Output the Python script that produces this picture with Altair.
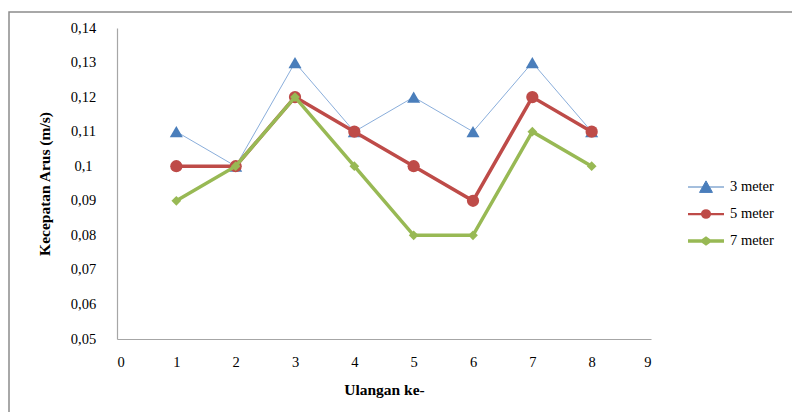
import altair as alt
import pandas as pd

# Measurement rounds and current speeds (m/s) at three depths
ulangan = [1, 2, 3, 4, 5, 6, 7, 8]
series_names = ["3 meter", "5 meter", "7 meter"]
v_3m = [0.11, 0.10, 0.13, 0.11, 0.12, 0.11, 0.13, 0.11]
v_5m = [0.10, 0.10, 0.12, 0.11, 0.10, 0.09, 0.12, 0.11]
v_7m = [0.09, 0.10, 0.12, 0.10, 0.08, 0.08, 0.11, 0.10]
y_ticks = [0.05, 0.06, 0.07, 0.08, 0.09, 0.10, 0.11, 0.12, 0.13, 0.14]
x_ticks = [0, 1, 2, 3, 4, 5, 6, 7, 8, 9]

marker_colors = ["#4A7EBB", "#BE4B48", "#98B954"]
line_colors = ["#8AAEDB", "#BE4B48", "#98B954"]
line_widths = [1, 3.5, 3.5]
marker_shapes = ["triangle-up", "circle", "diamond"]
marker_sizes = [170, 150, 95]

# legend glyphs: a short line with the marker in the middle
legend_paths = [
    "M-1,0L1,0M-0.36,0.3L0.36,0.3L0,-0.34Z",
    "M-1,0L1,0M-0.22,0A0.22,0.2,0,1,0,0.22,0A0.22,0.2,0,1,0,-0.22,0Z",
    "M-1,0L1,0M-0.2,0L0,-0.14L0.2,0L0,0.14Z",
]

rows = []
for name, vals in zip(series_names, [v_3m, v_5m, v_7m]):
    for u, v in zip(ulangan, vals):
        rows.append({"ulangan": u, "kecepatan": v, "seri": name})
df = pd.DataFrame(rows)

FONT = "Liberation Serif"

x_enc = alt.X(
    "ulangan:Q",
    scale=alt.Scale(domain=[0, 9], nice=False),
    axis=alt.Axis(
        values=x_ticks, format="d", grid=False, ticks=False,
        labelPadding=16, labelBaseline="top", labelFont=FONT,
        title="Ulangan ke-", titleY=50, titleBaseline="middle",
        titleFont=FONT, titleFontWeight="bold",
    ),
)
y_enc = alt.Y(
    "kecepatan:Q",
    scale=alt.Scale(domain=[0.05, 0.14], nice=False, zero=False),
    axis=alt.Axis(
        values=y_ticks, grid=False, ticks=False,
        labelExpr="replace(format(datum.value, '.2~f'), '.', ',')",
        labelAlign="center", labelPadding=34, labelFont=FONT,
        title="Kecepatan Arus (m/s)", titleX=-73, titleY=155.5,
        titleAngle=-90, titleBaseline="middle", titleAlign="center",
        titleFont=FONT, titleFontWeight="bold",
    ),
)

base = alt.Chart(df)
layers = []

# frame around the whole figure
frame = alt.Chart(pd.DataFrame({"k": [0]})).mark_rect(
    filled=False, stroke="#8c8c8c", strokeWidth=1.5
).encode(
    x=alt.value(-108), x2=alt.value(700), y=alt.value(-16), y2=alt.value(420)
)
layers.append(frame)

for i, name in enumerate(series_names):
    sub = base.transform_filter(alt.datum.seri == name)
    line = sub.mark_line(color=line_colors[i], strokeWidth=line_widths[i]).encode(
        x=x_enc, y=y_enc
    )
    pts = sub.mark_point(
        filled=True, opacity=1, shape=marker_shapes[i], size=marker_sizes[i],
        color=marker_colors[i],
    ).encode(x=x_enc, y=y_enc)
    layers += [line, pts]

# legend-only layer (no marks drawn; entries come from the scale domains)
leg_props = dict(
    title=None, orient="none", legendX=569, legendY=145.5,
    symbolSize=1296, clipHeight=27, labelFont=FONT, labelFontSize=14.5,
    labelColor="black", labelOffset=4, padding=0, rowPadding=0,
)
legend_layer = base.transform_filter("false").mark_point(filled=True, opacity=1).encode(
    x=x_enc, y=y_enc,
    color=alt.Color("seri:N", scale=alt.Scale(domain=series_names, range=marker_colors),
                    legend=alt.Legend(**leg_props)),
    stroke=alt.Stroke("seri:N", scale=alt.Scale(domain=series_names, range=marker_colors),
                      legend=alt.Legend(**leg_props)),
    strokeWidth=alt.StrokeWidth("seri:N", scale=alt.Scale(domain=series_names, range=line_widths),
                                legend=alt.Legend(**leg_props)),
    shape=alt.Shape("seri:N", scale=alt.Scale(domain=series_names, range=legend_paths),
                    legend=alt.Legend(**leg_props)),
)
layers.append(legend_layer)

chart = alt.layer(*layers).properties(
    width=534, height=311,
    autosize=alt.AutoSizeParams(type="none"),
    padding={"left": 117, "top": 28, "right": 141, "bottom": 73},
).configure(font=FONT).configure_view(stroke=None).configure_axis(
    labelFont=FONT, labelFontSize=14.5, labelColor="black",
    titleFont=FONT, titleFontSize=15.5, titleFontWeight="bold", titleColor="black",
    domainColor="#a6a6a6", domainWidth=1.2,
).configure_legend(labelFont=FONT)

chart.save("out.html", embed_options={"renderer": "svg", "actions": False})
